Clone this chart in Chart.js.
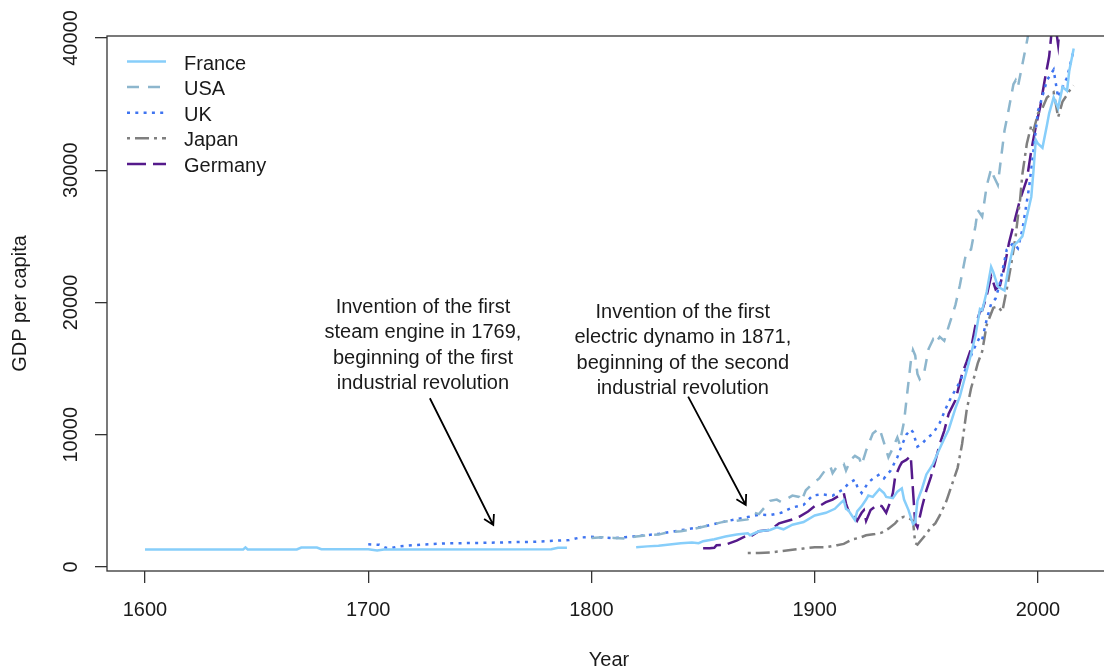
<!DOCTYPE html>
<html>
<head>
<meta charset="utf-8">
<script src="https://cdn.jsdelivr.net/npm/chart.js@4.4.1/dist/chart.umd.min.js"></script>
<style>
  html, body { margin: 0; padding: 0; overflow: hidden; background: #fff; }
  #wrap { width: 1120px; height: 670px; }
</style>
</head>
<body>
<div id="wrap"><canvas id="gdp" width="1120" height="670"></canvas></div>
<script>
// tick labels
const xTicks = [1600, 1700, 1800, 1900, 2000];
const yTicks = [0, 10000, 20000, 30000, 40000];

// France (gap between 1789 and 1820)
const franceYears = [1600, 1644, 1645, 1646, 1668, 1670, 1677, 1679, 1700, 1704, 1707, 1782, 1785, 1789, 1800,
  1820, 1825, 1830, 1835, 1840, 1845, 1848, 1850, 1855, 1860, 1865, 1870, 1871, 1875, 1880, 1883, 1886, 1890,
  1895, 1900, 1905, 1909, 1912, 1913, 1914, 1915, 1917, 1918, 1919, 1921, 1923, 1924, 1926, 1929, 1931, 1932,
  1935, 1937, 1939, 1940, 1942, 1944, 1945, 1946, 1948, 1950, 1953, 1955, 1958, 1960, 1963, 1965, 1968, 1970,
  1972, 1974, 1975, 1977, 1979, 1980, 1982, 1985, 1987, 1989, 1991, 1993, 1995, 1997, 1998, 1999, 2000, 2002,
  2004, 2005, 2007, 2009, 2011, 2013, 2014, 2016];
const franceGdp = [1330, 1330, 1480, 1330, 1330, 1470, 1470, 1340, 1340, 1240, 1320, 1340, 1450, 1450, null,
  1500, 1560, 1600, 1700, 1800, 1850, 1800, 1950, 2100, 2300, 2450, 2550, 2400, 2700, 2800, 3000, 2850, 3200,
  3400, 3900, 4100, 4400, 4900, 5050, 4400, 4300, 3800, 3550, 4200, 4600, 5100, 5400, 5300, 5900, 5600, 5300,
  5200, 5700, 5950, 5100, 4300, 3250, 3400, 5000, 5900, 7000, 7800, 8600, 9700, 10400, 12000, 12900, 14800, 16100,
  17500, 19500, 19400, 20800, 22700, 22300, 21200, 20900, 22800, 24300, 24600, 25000, 26500, 28000, 30000, 32300, 32000, 31700,
  33400, 34300, 35500, 34700, 36300, 36000, 37500, 39200];

const usaYears = [1800, 1805, 1810, 1815, 1820, 1825, 1830, 1835, 1840, 1845, 1850, 1855, 1860, 1865, 1870, 1873,
  1875, 1878, 1880, 1883, 1885, 1888, 1890, 1893, 1894, 1896, 1899, 1902, 1905, 1907, 1908, 1910, 1913, 1914,
  1916, 1918, 1920, 1921, 1923, 1926, 1929, 1931, 1933, 1935, 1937, 1938, 1940, 1942, 1943, 1944, 1945, 1946,
  1947, 1949, 1951, 1953, 1954, 1956, 1958, 1960, 1963, 1965, 1968, 1970, 1972, 1973, 1975, 1977, 1979, 1980,
  1982, 1983, 1985, 1987, 1989, 1990, 1991, 1993, 1995, 1997, 2000, 2016];
const usaGdp = [2190, 2250, 2200, 2150, 2300, 2400, 2450, 2650, 2700, 2850, 3050, 3250, 3450, 3500, 3600, 4100,
  4000, 4600, 5000, 5100, 4900, 5200, 5400, 5300, 5000, 5800, 6300, 6700, 7400, 7600, 7100, 7600, 7800, 7300,
  8100, 8400, 8200, 7700, 8800, 10100, 10500, 9400, 8300, 9000, 9800, 9300, 11000, 14000, 15500, 16400, 16000, 14600,
  14200, 14700, 16500, 17200, 16900, 17400, 17100, 18200, 19800, 21300, 23900, 24000, 25800, 27000, 26500, 28800, 30100, 29600,
  28900, 30300, 33000, 34700, 36500, 36800, 36300, 38000, 39700, 41500, 45000, 53000];

const ukYears = [1700, 1705, 1708, 1710, 1713, 1720, 1735, 1750, 1760, 1775, 1790, 1795, 1800, 1805, 1810, 1815,
  1820, 1830, 1840, 1850, 1860, 1870, 1875, 1880, 1885, 1890, 1895, 1899, 1903, 1908, 1913, 1915, 1918, 1919,
  1921, 1924, 1927, 1929, 1931, 1934, 1937, 1939, 1941, 1943, 1944, 1946, 1948, 1950, 1953, 1956, 1959, 1961,
  1964, 1968, 1971, 1974, 1975, 1977, 1979, 1981, 1983, 1986, 1989, 1991, 1993, 1996, 1998, 2000, 2001, 2004,
  2007, 2009, 2011, 2013, 2016];
const ukGdp = [1720, 1680, 1450, 1420, 1540, 1650, 1790, 1820, 1860, 1910, 2040, 2230, 2280, 2230, 2180, 2250,
  2330, 2500, 2780, 3050, 3450, 3780, 3950, 3930, 4100, 4500, 4700, 5400, 5500, 5400, 5900, 6300, 6600, 6100,
  5600, 6400, 6800, 7000, 6700, 7300, 8300, 9200, 10000, 10400, 10200, 9100, 9300, 9700, 10100, 10900, 12100, 12800,
  13700, 15100, 16400, 17400, 17200, 18700, 19900, 20300, 21500, 24000, 24500, 24100, 25500, 28700, 31500, 34500, 35000, 36800,
  37600, 35500, 36300, 37000, 39100];

const japanYears = [1870, 1875, 1880, 1885, 1890, 1895, 1900, 1905, 1910, 1913, 1917, 1920, 1923, 1927, 1930, 1933,
  1936, 1938, 1940, 1942, 1944, 1945, 1946, 1948, 1950, 1952, 1954, 1956, 1959, 1962, 1964, 1966, 1968, 1970,
  1971, 1973, 1975, 1977, 1980, 1982, 1984, 1986, 1988, 1990, 1991, 1992, 1993, 1995, 1997, 1998, 2000, 2002,
  2004, 2007, 2008, 2009, 2011, 2013, 2014, 2016];
const japanGdp = [1050, 1060, 1100, 1200, 1300, 1400, 1500, 1500, 1650, 1750, 2100, 2200, 2400, 2500, 2600, 2900,
  3300, 3700, 3800, 3700, 3500, 1800, 1700, 2100, 2500, 3000, 3300, 3900, 5000, 6500, 7500, 9300, 11800, 13500,
  14100, 15400, 16300, 18300, 19600, 19700, 19300, 21000, 22900, 25000, 26500, 27800, 29700, 32000, 33400, 33000, 34300, 34700,
  35500, 35900, 35000, 34000, 35200, 35700, 36000, 36400];

const germanyYears = [1850, 1853, 1855, 1856, 1860, 1865, 1870, 1871, 1875, 1880, 1884, 1888, 1890, 1893, 1897,
  1900, 1902, 1905, 1908, 1910, 1913, 1914, 1915, 1918, 1919, 1920, 1921, 1922, 1923, 1925, 1928, 1930, 1932,
  1934, 1935, 1936, 1938, 1939, 1941, 1943, 1944, 1945, 1946, 1948, 1950, 1952, 1954, 1956, 1958, 1960, 1963,
  1966, 1968, 1970, 1972, 1974, 1975, 1977, 1979, 1981, 1983, 1985, 1987, 1990, 1992, 1995, 1997, 1999, 2001,
  2003, 2005, 2006, 2007, 2009, 2010, 2016];
const germanyGdp = [1420, 1420, 1450, 1650, 1680, 2000, 2400, 2300, 2700, 2800, 3300, 3500, 3600, 3800, 4200,
  4600, 4600, 4900, 5100, 5300, 5600, 4800, 4300, 3800, 3500, 3800, 4100, 4300, 3500, 4300, 4700, 4600, 4100,
  5000, 5600, 6800, 7600, 7900, 8100, 8400, 5800, 3300, 3000, 4500, 5800, 6800, 8000, 9300, 10300, 11600, 12600,
  14600, 15500, 16500, 18300, 19300, 19400, 20500, 22000, 21000, 21300, 22700, 24500, 26500, 27800, 29300, 31500, 33300, 34800,
  36800, 38600, 40300, 42000, 39500, 41500, 44700];

const toPoints = (years, values) => years.map((yr, i) => ({ x: yr, y: values[i] }));

const FONT = '"Liberation Sans", Arial, sans-serif';
const INK = '#1a1a1a';

// text notes, anchored in data units
const notes = [
  { lines: ['Invention of the first', 'steam engine in 1769,', 'beginning of the first', 'industrial revolution'],
    at: [1724.5, 19660], from: [1727.6, 12760], to: [1756, 3176] },
  { lines: ['Invention of the first', 'electric dynamo in 1871,', 'beginning of the second', 'industrial revolution'],
    at: [1840.9, 19280], from: [1843.3, 12880], to: [1869.1, 4690] }
];

const decorations = {
  id: 'decorations',
  afterDatasetsDraw(chart) {
    const { ctx, chartArea: a, scales: { x, y } } = chart;
    ctx.save();

    // frame
    ctx.strokeStyle = '#333';
    ctx.lineWidth = 1.3;
    ctx.setLineDash([]);
    ctx.strokeRect(a.left, a.top, a.right - a.left, a.bottom - a.top);

    // y labels, rotated like base R
    ctx.fillStyle = INK;
    ctx.font = '20px ' + FONT;
    ctx.textAlign = 'center';
    ctx.textBaseline = 'middle';
    yTicks.forEach(v => {
      ctx.save();
      ctx.translate(71, y.getPixelForValue(v));
      ctx.rotate(-Math.PI / 2);
      ctx.fillText(String(v), 0, 0);
      ctx.restore();
    });

    // legend
    chart.data.datasets.forEach((ds, i) => {
      const ly = 61.5 + i * 25.6;
      ctx.strokeStyle = ds.borderColor;
      ctx.lineWidth = ds.borderWidth;
      ctx.setLineDash(ds.borderDash || []);
      ctx.beginPath();
      ctx.moveTo(127, ly);
      ctx.lineTo(166, ly);
      ctx.stroke();
      ctx.setLineDash([]);
      ctx.fillStyle = INK;
      ctx.textAlign = 'left';
      ctx.fillText(ds.label, 184, ly + 2.5);
    });

    // notes with arrows
    ctx.textAlign = 'center';
    notes.forEach(n => {
      const cx = x.getPixelForValue(n.at[0]);
      const cy = y.getPixelForValue(n.at[1]);
      n.lines.forEach((t, k) => ctx.fillText(t, cx, cy + k * 25.6));

      const x0 = x.getPixelForValue(n.from[0]), y0 = y.getPixelForValue(n.from[1]);
      const x1 = x.getPixelForValue(n.to[0]), y1 = y.getPixelForValue(n.to[1]);
      const ang = Math.atan2(y1 - y0, x1 - x0);
      ctx.strokeStyle = '#000';
      ctx.lineWidth = 1.8;
      ctx.beginPath();
      ctx.moveTo(x0, y0);
      ctx.lineTo(x1, y1);
      ctx.moveTo(x1 - 11 * Math.cos(ang - Math.PI / 6), y1 - 11 * Math.sin(ang - Math.PI / 6));
      ctx.lineTo(x1, y1);
      ctx.lineTo(x1 - 11 * Math.cos(ang + Math.PI / 6), y1 - 11 * Math.sin(ang + Math.PI / 6));
      ctx.stroke();
    });

    ctx.restore();
  }
};

const line = (label, years, values, color, dash) => ({
  label,
  data: toPoints(years, values),
  borderColor: color,
  borderWidth: 2.5,
  borderDash: dash,
  pointRadius: 0,
  fill: false,
  tension: 0,
  spanGaps: false
});

new Chart(document.getElementById('gdp'), {
  type: 'line',
  data: {
    datasets: [
      line('France', franceYears, franceGdp, '#87CEFA', []),
      line('USA', usaYears, usaGdp, '#8DB6CD', [12, 9]),
      line('UK', ukYears, ukGdp, '#3f74f0', [3, 5.3]),
      line('Japan', japanYears, japanGdp, '#7F7F7F', [3, 5, 14, 5]),
      line('Germany', germanyYears, germanyGdp, '#551A8B', [19, 7])
    ]
  },
  options: {
    responsive: false,
    animation: false,
    events: [],
    layout: { padding: { left: 0, top: 36, right: 9, bottom: 0 } },
    plugins: {
      legend: { display: false },
      tooltip: { enabled: false }
    },
    scales: {
      x: {
        type: 'linear',
        min: 1582.98,
        max: 2032.7,
        afterBuildTicks: s => { s.ticks = xTicks.map(v => ({ value: v })); },
        afterFit: s => { s.height = 99; },
        border: { display: false },
        grid: { drawOnChartArea: false, drawTicks: true, tickLength: 12, color: '#333', lineWidth: 1.3 },
        ticks: {
          color: INK,
          font: { family: FONT, size: 20 },
          padding: 15,
          maxRotation: 0,
          callback: v => String(v)
        },
        title: {
          display: true,
          text: 'Year',
          color: INK,
          font: { family: FONT, size: 20, lineHeight: 1 },
          padding: { top: 0, bottom: 0 }
        }
      },
      y: {
        min: -302,
        max: 40151,
        afterBuildTicks: s => { s.ticks = yTicks.map(v => ({ value: v })); },
        afterFit: s => { s.width = 107; },
        border: { display: false },
        grid: { drawOnChartArea: false, drawTicks: true, tickLength: 12, color: '#333', lineWidth: 1.3 },
        ticks: { display: false },
        title: {
          display: true,
          text: 'GDP per capita',
          color: INK,
          font: { family: FONT, size: 20, lineHeight: 1 },
          padding: { top: 10, bottom: 0 }
        }
      }
    }
  },
  plugins: [decorations]
});
</script>
</body>
</html>
